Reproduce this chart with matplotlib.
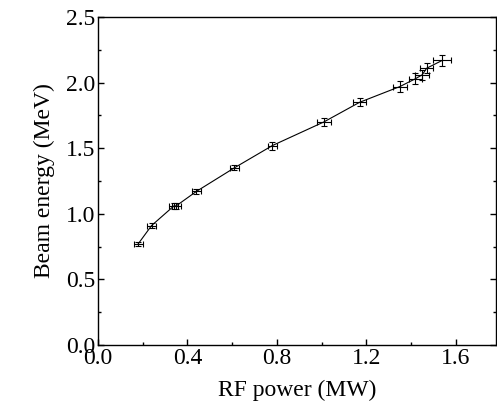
import matplotlib
matplotlib.use('Agg')
import matplotlib.pyplot as plt
from matplotlib.ticker import MultipleLocator

plt.rcParams['font.family'] = 'Liberation Serif'
plt.rcParams['font.size'] = 17

# RF power (MW) vs beam energy (MeV)
power = [0.18, 0.24, 0.34, 0.35, 0.44, 0.61, 0.78, 1.01, 1.17, 1.35, 1.42, 1.45, 1.47, 1.54]
energy = [0.77, 0.91, 1.06, 1.06, 1.17, 1.35, 1.52, 1.70, 1.85, 1.97, 2.03, 2.06, 2.11, 2.17]
power_err = [0.02, 0.02, 0.02, 0.02, 0.02, 0.02, 0.02, 0.03, 0.03, 0.03, 0.03, 0.03, 0.03, 0.04]
energy_err = [0.015, 0.02, 0.02, 0.02, 0.02, 0.02, 0.03, 0.03, 0.03, 0.04, 0.04, 0.04, 0.04, 0.04]

fig = plt.figure(figsize=(4.97, 4.17), dpi=100)
ax = fig.add_axes([0.197, 0.173, 0.801, 0.786])
ax.errorbar(power, energy, xerr=power_err, yerr=energy_err, color='black', lw=0.8,
            elinewidth=0.8, capsize=2.5, capthick=0.8)
ax.set_xlim(0, 1.78)
ax.set_ylim(0, 2.5)
ax.xaxis.set_major_locator(MultipleLocator(0.4))
ax.xaxis.set_minor_locator(MultipleLocator(0.2))
ax.yaxis.set_major_locator(MultipleLocator(0.5))
ax.yaxis.set_minor_locator(MultipleLocator(0.25))
ax.tick_params(which='both', direction='in', top=False, right=True, width=1)
ax.tick_params(which='major', length=4, pad=2)
ax.tick_params(which='minor', length=2.5)
for s in ax.spines.values():
    s.set_linewidth(1)
ax.set_xlabel('RF power (MW)', labelpad=8)
ax.set_ylabel('Beam energy (MeV)', labelpad=8)
fig.savefig('out.png', dpi=100)
